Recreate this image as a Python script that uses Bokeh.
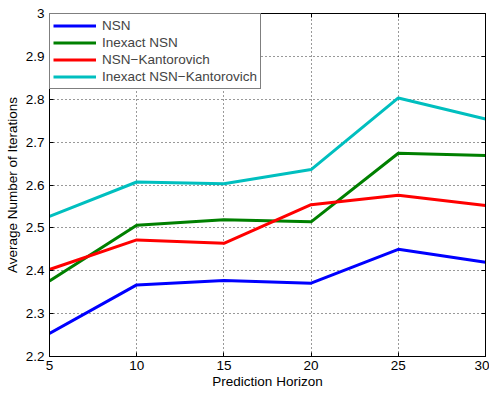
from bokeh.plotting import figure
from bokeh.models import (LinearAxis, FixedTicker, Range1d, Legend, LegendItem,
                          CustomJSTickFormatter)
from bokeh.embed import file_html
from bokeh.resources import INLINE

horizon = [5, 10, 15, 20, 25, 30]
nsn = [2.254, 2.367, 2.377, 2.371, 2.450, 2.420]
inexact_nsn = [2.376, 2.506, 2.519, 2.514, 2.674, 2.669]
nsn_kant = [2.403, 2.472, 2.464, 2.554, 2.576, 2.552]
inexact_nsn_kant = [2.527, 2.607, 2.603, 2.636, 2.803, 2.754]

x_ticks = [5, 10, 15, 20, 25, 30]
y_ticks = [2.2, 2.3, 2.4, 2.5, 2.6, 2.7, 2.8, 2.9, 3.0]

series = [
    ("NSN", nsn, "#0000ff"),
    ("Inexact NSN", inexact_nsn, "#008000"),
    ("NSN\u2212Kantorovich", nsn_kant, "#ff0000"),
    ("Inexact NSN\u2212Kantorovich", inexact_nsn_kant, "#00bfbf"),
]

FONT = "Liberation Sans"
SIZE = "13.5px"

p = figure(width=489, height=393, frame_width=436, frame_height=343,
           x_range=Range1d(5, 30), y_range=Range1d(2.2, 3.0),
           output_backend="svg", toolbar_location=None,
           min_border_left=49, min_border_right=4,
           min_border_top=13, min_border_bottom=37)
p.background_fill_color = "white"
p.border_fill_color = "white"
p.outline_line_color = "black"
p.outline_line_width = 1

items = []
for name, vals, color in series:
    r = p.line(horizon, vals, line_color=color, line_width=3)
    items.append(LegendItem(label=name, renderers=[r]))

for ax in (p.xaxis[0], p.yaxis[0]):
    ax.major_tick_in = 4
    ax.major_tick_out = 0
    ax.minor_tick_line_color = None
    ax.axis_line_color = "black"
    ax.major_label_text_font = FONT
    ax.major_label_text_font_size = SIZE
    ax.major_label_text_color = "black"
    ax.axis_label_text_font = FONT
    ax.axis_label_text_font_size = SIZE
    ax.axis_label_text_font_style = "normal"
    ax.axis_label_text_color = "black"

p.xaxis[0].ticker = FixedTicker(ticks=x_ticks)
p.yaxis[0].ticker = FixedTicker(ticks=y_ticks)
p.xaxis[0].axis_label = "Prediction Horizon"
p.yaxis[0].axis_label = "Average Number of Iterations"
p.xaxis[0].major_label_standoff = 4
p.xaxis[0].axis_label_standoff = 1
p.yaxis[0].major_label_standoff = 5
p.yaxis[0].axis_label_standoff = 3

# unlabeled tick marks on the top and right edges of the box
blank = CustomJSTickFormatter(code="return ''")
top = LinearAxis(ticker=FixedTicker(ticks=x_ticks), major_tick_in=4, major_tick_out=0,
                 minor_tick_line_color=None, formatter=blank,
                 major_label_standoff=0, axis_line_color="black")
right = LinearAxis(ticker=FixedTicker(ticks=y_ticks), major_tick_in=4, major_tick_out=0,
                   minor_tick_line_color=None, formatter=blank,
                   major_label_standoff=0, axis_line_color="black")
p.add_layout(top, "above")
p.add_layout(right, "right")

for g in (p.xgrid[0], p.ygrid[0]):
    g.grid_line_color = "black"
    g.grid_line_dash = "1 3"
    g.grid_line_width = 1
    g.grid_line_alpha = 0.8
p.xgrid[0].ticker = FixedTicker(ticks=x_ticks)
p.ygrid[0].ticker = FixedTicker(ticks=y_ticks)

legend = Legend(items=items, location="top_left", margin=0, padding=3, spacing=0,
                glyph_width=43, glyph_height=17, label_height=17, label_standoff=6,
                label_text_font=FONT, label_text_font_size=SIZE,
                border_line_color="black", border_line_width=1,
                background_fill_color="white", background_fill_alpha=1)
p.add_layout(legend)

open("out.html", "w").write(file_html(p, INLINE))
